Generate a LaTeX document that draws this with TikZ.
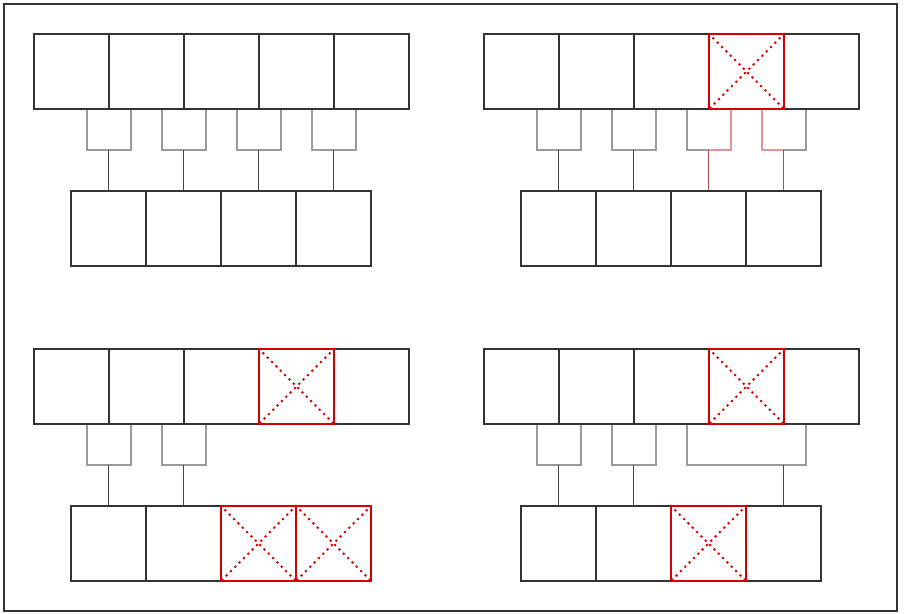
\documentclass[tikz,border=0pt]{standalone}
\usetikzlibrary{calc}

\definecolor{boxline}{HTML}{333333}
\definecolor{brkgray}{HTML}{9A9A9A}
\definecolor{stemgray}{HTML}{444444}
\definecolor{failred}{HTML}{D40000}
\definecolor{brkred}{HTML}{E89494}
\definecolor{stemred}{HTML}{B04F4F}

\tikzset{
  box/.style={rectangle,draw=boxline,line width=0.9pt,inner sep=0pt,minimum size=56.25pt},
  fail/.style={box,draw=failred,line width=1.1pt},
  cross/.style={draw=failred,line width=1.5pt,dash pattern=on 1.6pt off 3pt},
  brk/.style={draw=brkgray,line width=0.85pt},
  brkfail/.style={draw=brkred,line width=0.85pt},
  stem/.style={draw=stemgray,line width=1.15pt},
  stemfail/.style={draw=stemred,line width=1.15pt}
}

\begin{document}
\begin{tikzpicture}[x=0.75pt,y=-0.75pt]

        \useasboundingbox (0,0) rectangle (904,614);
        \draw[boxline,line width=1pt] (4,4) rectangle (897,611);

        % upper left: all healthy
        \begin{scope}[name prefix=A-]
          \node[box] (t1) at (71.5,71.5)  {};
          \node[box] (t2) at (146.5,71.5) {};
          \node[box] (t3) at (221.5,71.5) {};
          \node[box] (t4) at (296.5,71.5) {};
          \node[box] (t5) at (371.5,71.5) {};
          \node[box] (b1) at (108.5,228.5) {};
          \node[box] (b2) at (183.5,228.5) {};
          \node[box] (b3) at (258.5,228.5) {};
          \node[box] (b4) at (333.5,228.5) {};
          \coordinate (j1) at (108.5,150);
          \coordinate (j2) at (183.5,150);
          \coordinate (j3) at (258.5,150);
          \coordinate (j4) at (333.5,150);

          \path[brk] ($(t1.south)+(15.5,0)$) |- (j1) -| ($(t2.south)+(-15.5,0)$);
          \path[brk] ($(t2.south)+(15.5,0)$) |- (j2) -| ($(t3.south)+(-15.5,0)$);
          \path[brk] ($(t3.south)+(15.5,0)$) |- (j3) -| ($(t4.south)+(-15.5,0)$);
          \path[brk] ($(t4.south)+(15.5,0)$) |- (j4) -| ($(t5.south)+(-15.5,0)$);
          \path[stem] (j1) -- (b1.north);
          \path[stem] (j2) -- (b2.north);
          \path[stem] (j3) -- (b3.north);
          \path[stem] (j4) -- (b4.north);
        \end{scope}

        % upper right: one upper box fails
        \begin{scope}[name prefix=B-]
          \node[box] (t1) at (521.5,71.5) {};
          \node[box] (t2) at (596.5,71.5) {};
          \node[box] (t3) at (671.5,71.5) {};
          \node[box] (t5) at (821.5,71.5) {};
          \node[fail] (t4) at (746.5,71.5) {};
          \node[box] (b1) at (558.5,228.5) {};
          \node[box] (b2) at (633.5,228.5) {};
          \node[box] (b3) at (708.5,228.5) {};
          \node[box] (b4) at (783.5,228.5) {};
          \coordinate (j1) at (558.5,150);
          \coordinate (j2) at (633.5,150);
          \coordinate (j3) at (708.5,150);
          \coordinate (j4) at (783.5,150);

          \path[cross] (t4.north west) -- (t4.south east) (t4.north east) -- (t4.south west);
          \path[brk] ($(t1.south)+(15.5,0)$) |- (j1) -| ($(t2.south)+(-15.5,0)$);
          \path[brk] ($(t2.south)+(15.5,0)$) |- (j2) -| ($(t3.south)+(-15.5,0)$);
          \path[brk] ($(t3.south)+(15.5,0)$) |- (j3);
          \path[brkfail] ($(t4.south)+(-15.5,0)$) |- (j3);
          \path[brkfail] ($(t4.south)+(15.5,0)$) |- (j4);
          \path[brk] (j4) -| ($(t5.south)+(-15.5,0)$);
          \path[stem] (j1) -- (b1.north);
          \path[stem] (j2) -- (b2.north);
          \path[stemfail] (j3) -- (b3.north);
          \path[stemfail] (j4) -- (b4.north);
        \end{scope}

        % lower left: links dropped
        \begin{scope}[name prefix=C-]
          \node[box] (t1) at (71.5,386.5)  {};
          \node[box] (t2) at (146.5,386.5) {};
          \node[box] (t3) at (221.5,386.5) {};
          \node[box] (t5) at (371.5,386.5) {};
          \node[fail] (t4) at (296.5,386.5) {};
          \node[box] (b1) at (108.5,543.5) {};
          \node[box] (b2) at (183.5,543.5) {};
          \node[fail] (b3) at (258.5,543.5) {};
          \node[fail] (b4) at (333.5,543.5) {};
          \coordinate (j1) at (108.5,465);
          \coordinate (j2) at (183.5,465);

          \path[cross] (t4.north west) -- (t4.south east) (t4.north east) -- (t4.south west);
          \path[cross] (b3.north west) -- (b3.south east) (b3.north east) -- (b3.south west);
          \path[cross] (b4.north west) -- (b4.south east) (b4.north east) -- (b4.south west);
          \path[brk] ($(t1.south)+(15.5,0)$) |- (j1) -| ($(t2.south)+(-15.5,0)$);
          \path[brk] ($(t2.south)+(15.5,0)$) |- (j2) -| ($(t3.south)+(-15.5,0)$);
          \path[stem] (j1) -- (b1.north);
          \path[stem] (j2) -- (b2.north);
        \end{scope}

        % lower right: link bridged over the failed box
        \begin{scope}[name prefix=D-]
          \node[box] (t1) at (521.5,386.5) {};
          \node[box] (t2) at (596.5,386.5) {};
          \node[box] (t3) at (671.5,386.5) {};
          \node[box] (t5) at (821.5,386.5) {};
          \node[fail] (t4) at (746.5,386.5) {};
          \node[box] (b1) at (558.5,543.5) {};
          \node[box] (b2) at (633.5,543.5) {};
          \node[box] (b4) at (783.5,543.5) {};
          \node[fail] (b3) at (708.5,543.5) {};
          \coordinate (j1) at (558.5,465);
          \coordinate (j2) at (633.5,465);
          \coordinate (j3) at (783.5,465);

          \path[cross] (t4.north west) -- (t4.south east) (t4.north east) -- (t4.south west);
          \path[cross] (b3.north west) -- (b3.south east) (b3.north east) -- (b3.south west);
          \path[brk] ($(t1.south)+(15.5,0)$) |- (j1) -| ($(t2.south)+(-15.5,0)$);
          \path[brk] ($(t2.south)+(15.5,0)$) |- (j2) -| ($(t3.south)+(-15.5,0)$);
          \path[brk] ($(t3.south)+(15.5,0)$) |- (j3) -| ($(t5.south)+(-15.5,0)$);
          \path[stem] (j1) -- (b1.north);
          \path[stem] (j2) -- (b2.north);
          \path[stem] (j3) -- (b4.north);
        \end{scope}

      \end{tikzpicture}
\end{document}
